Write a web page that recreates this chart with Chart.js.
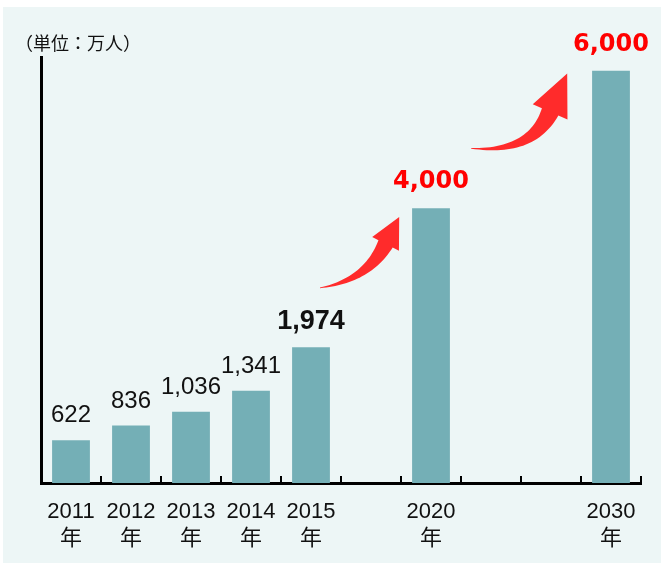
<!DOCTYPE html>
<html>
<head>
<meta charset="utf-8">
<script src="https://cdn.jsdelivr.net/npm/chart.js@4/dist/chart.umd.min.js"></script>
<style>
  html, body { margin: 0; padding: 0; background: #fff; }
  #wrap { width: 664px; height: 564px; }
</style>
</head>
<body>
<div id="wrap"><canvas id="popChart" width="664" height="564"></canvas></div>
<script>
const years = ['2011', '2012', '2013', '2014', '2015', '', '2020', '', '', '2030']
const values = [622, 836, 1036, 1341, 1974, null, 4000, null, null, 6000]
const valueLabels = ['622', '836', '1,036', '1,341', '1,974', '', '4,000', '', '', '6,000']
const yearSuffix = '年'
const unitLabel = '（単位：万人）'
// 0 = plain, 1 = bold black, 2 = bold red
const labelKinds = [0, 0, 0, 0, 1, 0, 2, 0, 0, 2]
// growth arrows as [category position, value]
const arrowTails = [[4.15, 2840], [6.67, 4870]]
const arrowTips = [[5.47, 3870], [8.27, 5960]]

const BAR = '#74afb6'
const PANEL = '#edf6f6'
const RED = '#ff2b2b'

const labelFonts = [
  { font: '24px "Liberation Sans", Arial, sans-serif', color: '#111', lift: 18 },
  { font: 'bold 27px "Liberation Sans", Arial, sans-serif', color: '#111', lift: 18 },
  { font: 'bold 24px "DejaVu Sans", Verdana, sans-serif', color: '#ff0000', lift: 20 },
]
const arrowShapes = [
  { headLen: 30, headHalf: 15, bodyHalf: 8, angle: -63 },
  { headLen: 42, headHalf: 19, bodyHalf: 9, angle: -66 },
]

const panelPlugin = {
  id: 'panel',
  beforeDraw(chart) {
    const ctx = chart.ctx
    ctx.save()
    ctx.fillStyle = '#fff'
    ctx.fillRect(0, 0, chart.width, chart.height)
    ctx.fillStyle = PANEL
    ctx.fillRect(3, 7, chart.width - 6, chart.height - 8)
    ctx.restore()
  },
}

// short upward ticks between the categories
const innerTicks = {
  id: 'innerTicks',
  afterDraw(chart) {
    const x = chart.scales.x
    const ctx = chart.ctx
    const base = chart.chartArea.bottom
    ctx.save()
    ctx.strokeStyle = '#000'
    ctx.lineWidth = 2
    ctx.beginPath()
    for (let i = 0; i < years.length; i++) {
      const px = Math.round(x.getPixelForValue(i + 0.5))
      ctx.moveTo(px, base)
      ctx.lineTo(px, base - 7)
    }
    ctx.stroke()
    ctx.restore()
  },
}

const valueText = {
  id: 'valueText',
  afterDatasetsDraw(chart) {
    const ctx = chart.ctx
    const bars = chart.getDatasetMeta(0).data
    ctx.save()
    ctx.textAlign = 'center'
    ctx.textBaseline = 'alphabetic'
    bars.forEach((bar, i) => {
      if (values[i] == null) return
      const st = labelFonts[labelKinds[i]]
      ctx.font = st.font
      ctx.fillStyle = st.color
      ctx.fillText(valueLabels[i], bar.x, bar.y - st.lift)
    })
    ctx.font = '18px "Noto Sans CJK JP", sans-serif'
    ctx.fillStyle = '#111'
    ctx.textAlign = 'left'
    ctx.textBaseline = 'middle'
    ctx.fillText(unitLabel, 15, 43)
    ctx.restore()
  },
}

function drawArrow(ctx, tail, tip, shape) {
  const a = shape.angle * Math.PI / 180
  const u = [Math.cos(a), Math.sin(a)]
  const neck = [tip[0] - u[0] * shape.headLen, tip[1] - u[1] * shape.headLen]
  const reach = Math.hypot(neck[0] - tail[0], neck[1] - tail[1]) * 0.52
  const ctrl = [neck[0] - u[0] * reach, neck[1] - u[1] * reach]
  const upper = []
  const lower = []
  const steps = 30
  for (let s = 0; s <= steps; s++) {
    const t = s / steps
    const m = 1 - t
    const px = m * m * tail[0] + 2 * m * t * ctrl[0] + t * t * neck[0]
    const py = m * m * tail[1] + 2 * m * t * ctrl[1] + t * t * neck[1]
    const dx = 2 * m * (ctrl[0] - tail[0]) + 2 * t * (neck[0] - ctrl[0])
    const dy = 2 * m * (ctrl[1] - tail[1]) + 2 * t * (neck[1] - ctrl[1])
    const len = Math.hypot(dx, dy) || 1
    const nx = -dy / len
    const ny = dx / len
    const w = shape.bodyHalf * (0.04 + 0.96 * Math.pow(t, 1.1))
    upper.push([px + nx * w, py + ny * w])
    lower.push([px - nx * w, py - ny * w])
  }
  const n = [-u[1], u[0]]
  ctx.beginPath()
  ctx.moveTo(upper[0][0], upper[0][1])
  upper.forEach(p => ctx.lineTo(p[0], p[1]))
  ctx.lineTo(neck[0] + n[0] * shape.headHalf, neck[1] + n[1] * shape.headHalf)
  ctx.lineTo(tip[0], tip[1])
  ctx.lineTo(neck[0] - n[0] * shape.headHalf, neck[1] - n[1] * shape.headHalf)
  for (let i = lower.length - 1; i >= 0; i--) ctx.lineTo(lower[i][0], lower[i][1])
  ctx.closePath()
  ctx.fill()
}

const growthArrows = {
  id: 'growthArrows',
  afterDatasetsDraw(chart) {
    const { x, y } = chart.scales
    const ctx = chart.ctx
    ctx.save()
    ctx.fillStyle = RED
    arrowTails.forEach((t, i) => {
      const tail = [x.getPixelForValue(t[0]), y.getPixelForValue(t[1])]
      const tip = [x.getPixelForValue(arrowTips[i][0]), y.getPixelForValue(arrowTips[i][1])]
      drawArrow(ctx, tail, tip, arrowShapes[i])
    })
    ctx.restore()
  },
}

new Chart(document.getElementById('popChart'), {
  type: 'bar',
  data: {
    labels: years.map(y => (y ? [y, yearSuffix] : '')),
    datasets: [{
      data: values,
      backgroundColor: BAR,
      borderWidth: 0,
      barPercentage: 0.63,
      categoryPercentage: 1,
    }],
  },
  options: {
    responsive: false,
    animation: false,
    layout: { padding: { top: 57, right: 23, bottom: 0, left: 0 } },
    plugins: { legend: { display: false }, tooltip: { enabled: false } },
    scales: {
      x: {
        grid: { display: false },
        border: { display: true, color: '#000', width: 3 },
        ticks: {
          color: '#111',
          padding: 8,
          maxRotation: 0,
          autoSkip: false,
          font: { family: '"Liberation Sans", Arial, "Noto Sans CJK JP", sans-serif', size: 22, lineHeight: 1.22 },
        },
        afterFit(s) { s.height = 81 },
      },
      y: {
        min: 0,
        max: 6200,
        grid: { display: false },
        border: { display: true, color: '#000', width: 3 },
        ticks: { display: false },
        afterFit(s) { s.width = 41 },
      },
    },
  },
  plugins: [panelPlugin, innerTicks, valueText, growthArrows],
})
</script>
</body>
</html>
